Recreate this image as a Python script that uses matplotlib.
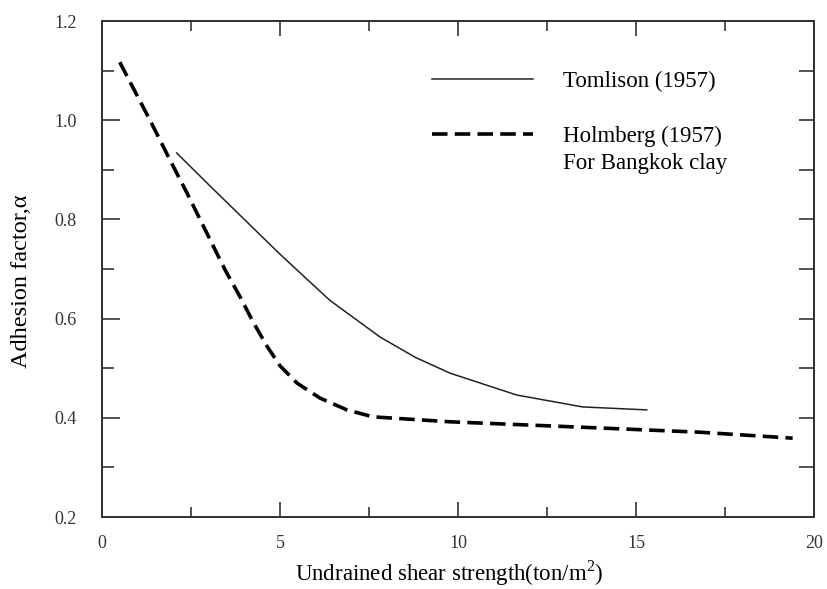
import matplotlib
matplotlib.use('Agg')
import matplotlib.pyplot as plt
from matplotlib.lines import Line2D
import numpy as np

plt.rcParams['font.family'] = ['Liberation Serif', 'DejaVu Serif']
plt.rcParams['mathtext.fontset'] = 'custom'
plt.rcParams['mathtext.rm'] = 'Liberation Serif'

# Tomlinson (1957) curve
tom_x = [2.1, 3.0, 4.0, 5.0, 5.48, 6.40, 7.81, 8.8, 9.78, 11.65, 13.5, 15.3]
tom_y = [0.934, 0.870, 0.800, 0.730, 0.698, 0.637, 0.563, 0.522, 0.490, 0.446, 0.422, 0.416]

# Holmberg (1957), Bangkok clay
hol_x = [0.5, 1.35, 1.91, 2.39, 3.46, 3.88, 4.24, 4.63, 5.0, 5.48, 6.12, 6.88, 7.61,
         9.78, 13.5, 16.8, 19.4]
hol_y = [1.117, 1.0, 0.92, 0.853, 0.698, 0.644, 0.594, 0.545, 0.505, 0.470, 0.440, 0.416, 0.402,
         0.392, 0.381, 0.371, 0.359]

x_ticks = [0, 5, 10, 15, 20]
y_ticks = [0.2, 0.4, 0.6, 0.8, 1.0, 1.2]

fig = plt.figure(figsize=(8.27, 5.89), dpi=100)
ax = fig.add_axes([0.1233, 0.1222, 0.861, 0.842])

ax.plot(tom_x, tom_y, color='#222222', lw=1.1, label='Tomlison (1957)')
ax.plot(hol_x, hol_y, color='black', lw=2.6, dashes=(4.3, 2.0), label='Holmberg (1957)')

ax.set_xlim(0, 20)
ax.set_ylim(0.2, 1.2)
ax.set_xticks(x_ticks)
ax.set_yticks(y_ticks)
ax.set_xticks(np.arange(2.5, 20, 5), minor=True)
ax.set_yticks(np.arange(0.3, 1.2, 0.2), minor=True)
ax.set_yticklabels(['%.1f' % v for v in y_ticks])

ax.tick_params(which='both', direction='in', top=True, right=False,
               colors='#333333', labelsize=13, width=1.2)
ax.tick_params(axis='x', which='major', length=11, pad=13)
ax.tick_params(axis='x', which='minor', length=7)
ax.tick_params(axis='y', which='major', length=13, pad=18)
ax.tick_params(axis='y', which='minor', length=8.5)

# right side ticks every 0.1
ax2 = ax.twinx()
ax2.set_ylim(0.2, 1.2)
ax2.set_yticks(np.arange(0.3, 1.2, 0.1))
ax2.tick_params(direction='in', length=11, width=1.2, colors='#333333', labelright=False)

for a in (ax, ax2):
    for s in a.spines.values():
        s.set_color('#333333')
        s.set_linewidth(1.4)

ax.set_xlabel('Undrained shear strength(ton/m$^2$)', fontsize=16.5)
ax.set_ylabel('Adhesion factor,\u03b1', fontsize=17.5)
ax.xaxis.set_label_coords(0.487, -0.083)
ax.yaxis.set_label_coords(-0.098, 0.476)

blank = Line2D([], [], color='none')
handles = [ax.lines[0], blank, ax.lines[1], blank]
labels = ['Tomlison (1957)', ' ', 'Holmberg (1957)', 'For Bangkok clay']
ax.legend(handles, labels, loc='upper left', bbox_to_anchor=(0.4635, 0.899),
          frameon=False, fontsize=16.5, handlelength=4.4, handletextpad=1.3,
          borderpad=0, borderaxespad=0, labelspacing=0.27)

fig.savefig('out.png', dpi=100)
